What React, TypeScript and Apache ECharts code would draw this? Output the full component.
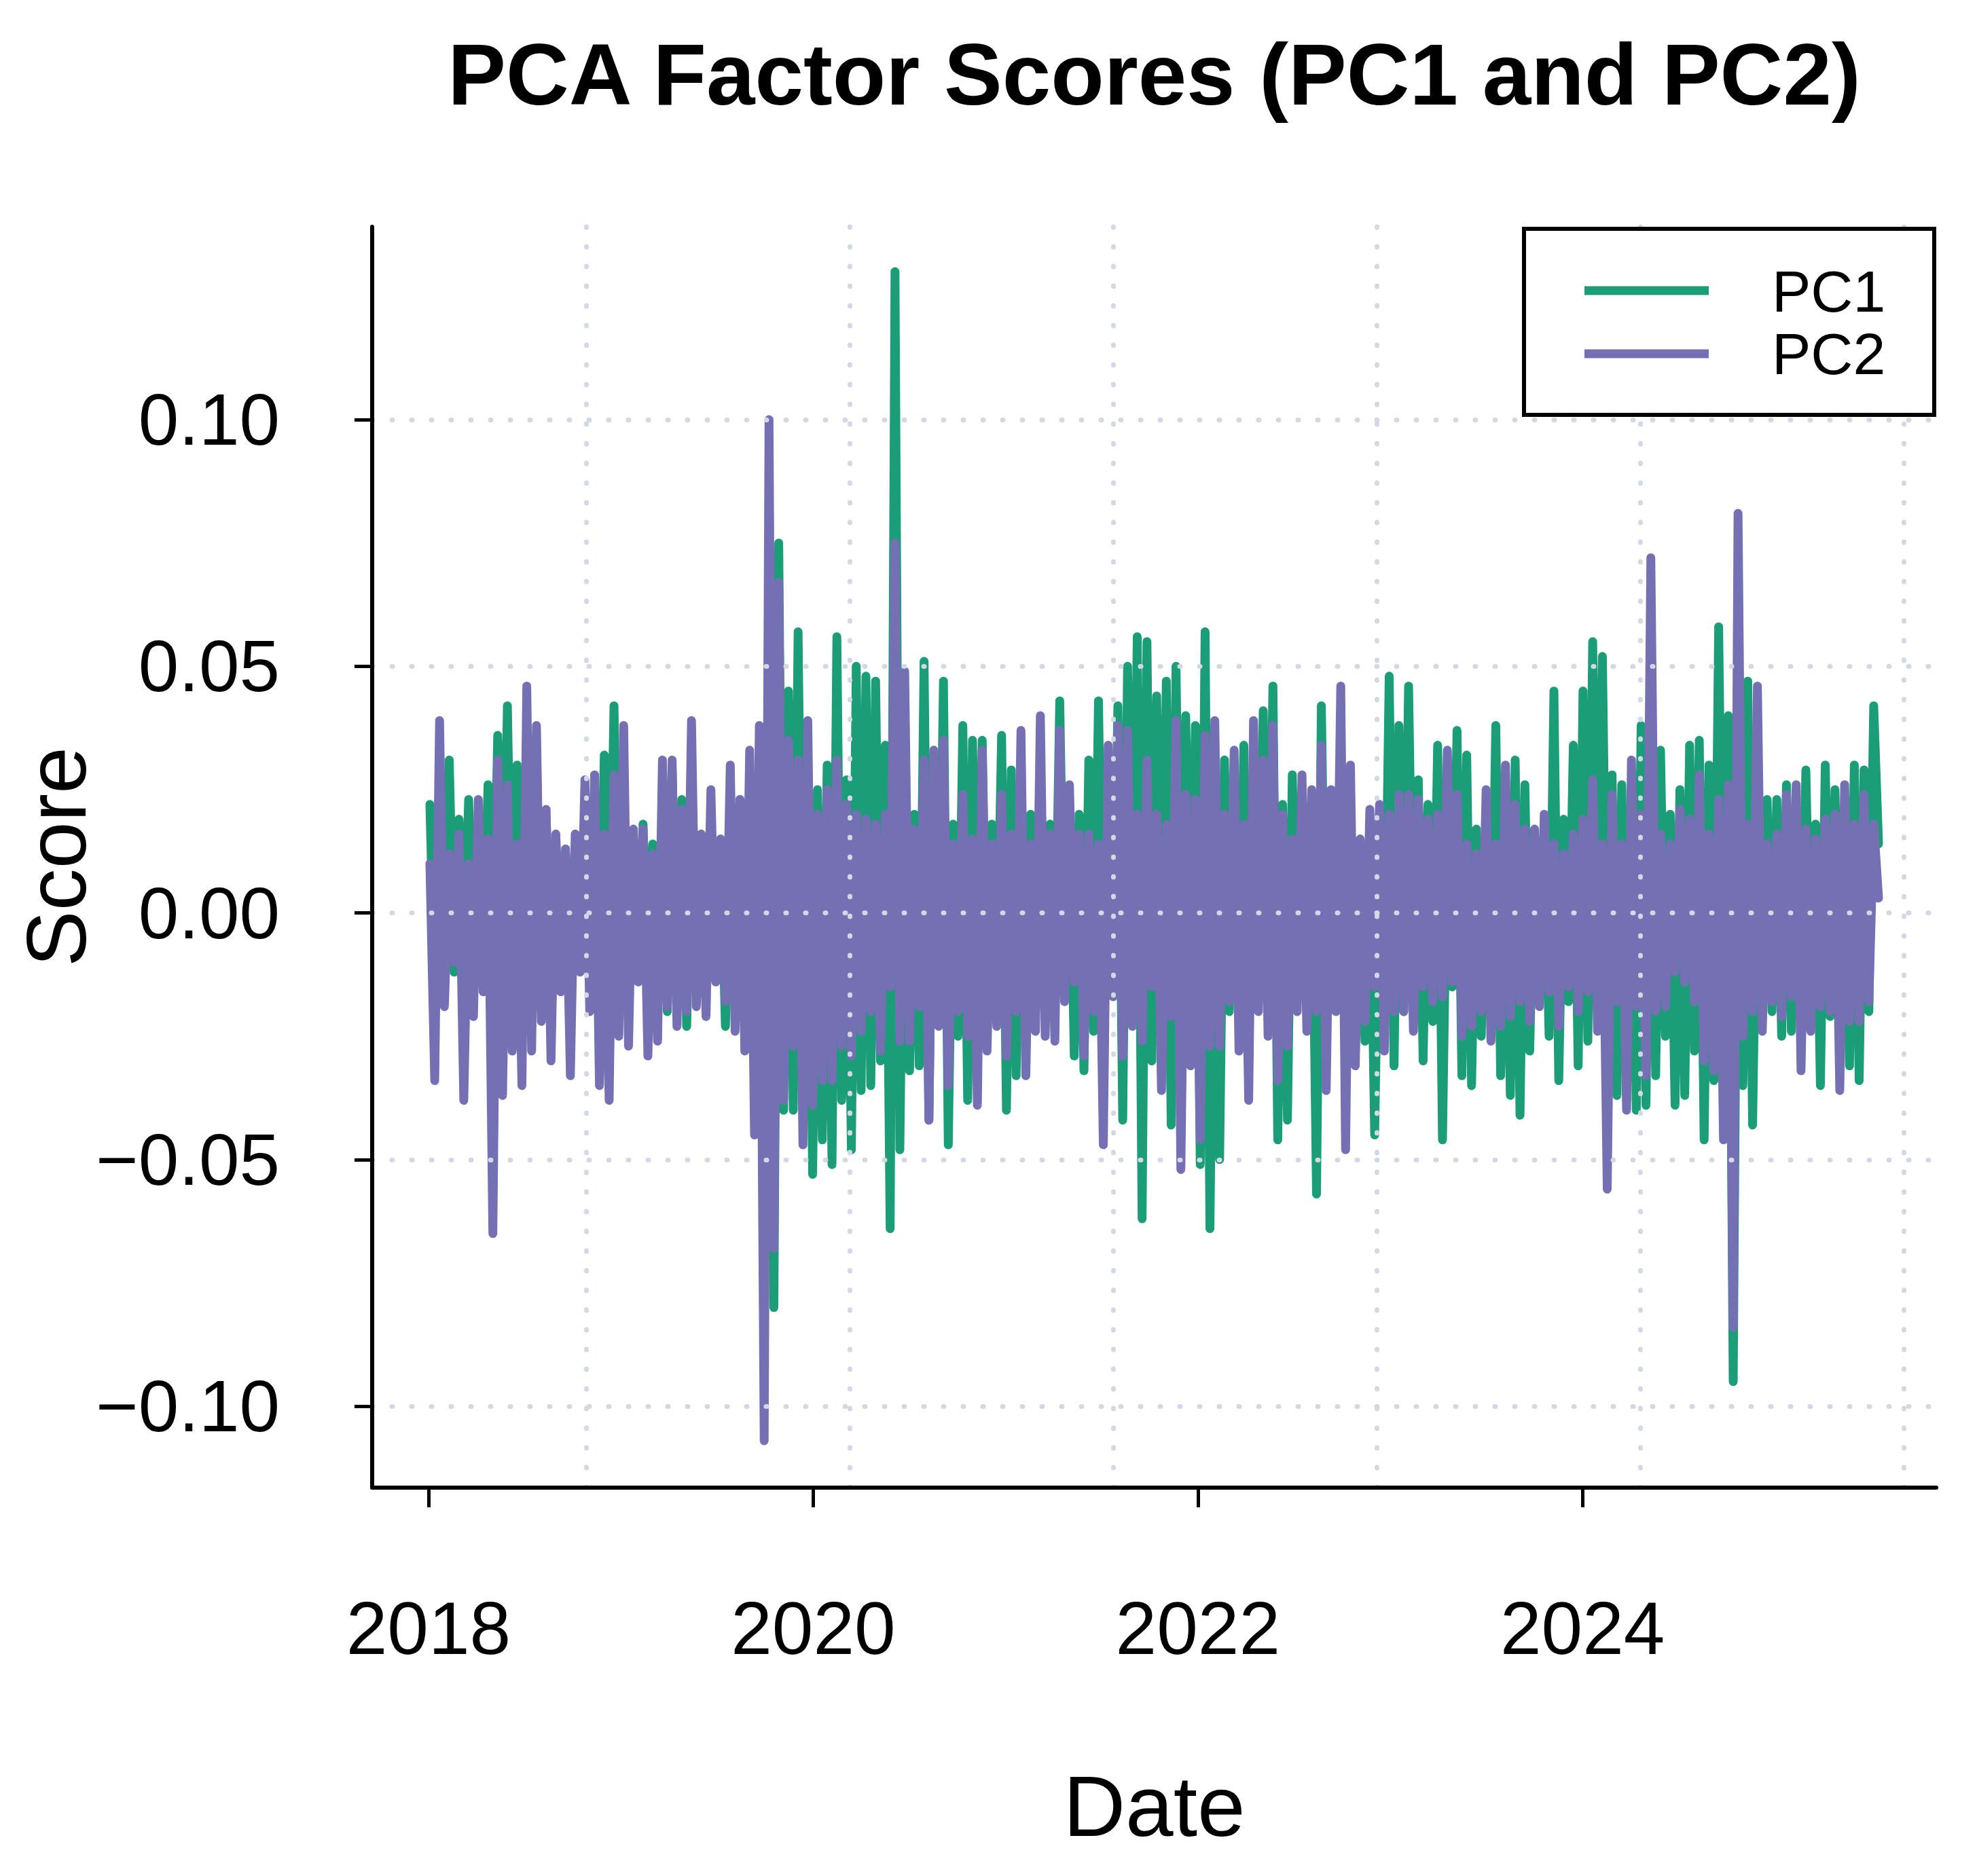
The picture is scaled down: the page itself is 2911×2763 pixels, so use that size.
import * as echarts from "echarts";
import { useEffect, useRef } from "react";

// factor scores in units of 0.001, one sample about every 9 days
const pc1 = [
  22, -16, 26, -17, 31, -12, 19, -10, 23, -12, 15, -12, 26, -15, 36, -14, 42, -15, 30, -22, 20, -12, 33, -16, 19,
  -10, 15, -14, 12, -12, 14, -10, 18, -12, 14, -13, 32, -14, 42, -16, 23, -16, 14, -12, 18, -14, 14, -12, 14, -20,
  29, -14, 23, -23, 18, -12, 12, -14, 16, -12, 14, -23, 15, -16, 23, -21, 20, -22, 30, -50, 52, -80, 75, -40, 45,
  -40, 57, -30, 28, -53, 25, -46, 30, -51, 56, -38, 27, -48, 50, -36, 48, -35, 47, -30, 34, -64, 130, -48, 35, -32,
  20, -31, 51, -42, 32, -20, 47, -47, 18, -25, 38, -38, 35, -22, 35, -20, 18, -16, 36, -40, 29, -33, 18, -18, 20,
  -15, 20, -16, 18, -15, 43, -15, 23, -29, 20, -32, 31, -24, 43, -25, 20, -16, 42, -42, 50, -20, 56, -62, 55, -30,
  44, -20, 47, -43, 50, -25, 40, -20, 38, -51, 57, -64, 25, -50, 31, -20, 25, -20, 34, -22, 20, -18, 41, -20, 46,
  -46, 22, -42, 28, -15, 18, -20, 20, -57, 42, -25, 18, -16, 20, -20, 20, -18, 14, -26, 16, -45, 15, -20, 48, -31,
  38, -20, 46, -16, 27, -30, 22, -22, 34, -46, 20, -15, 37, -33, 32, -35, 17, -25, 18, -22, 38, -33, 20, -37, 31,
  -41, 26, -28, 15, -15, 18, -25, 45, -34, 19, -18, 34, -31, 45, -26, 55, -18, 52, -20, 28, -37, 26, -38, 20, -40,
  38, -39, 40, -33, 33, -25, 20, -39, 25, -37, 34, -28, 35, -46, 30, -34, 58, -25, 40, -95, 40, -35, 47, -43, 20,
  -22, 23, -20, 23, -25, 26, -24, 20, -18, 29, -20, 18, -35, 30, -21, 25, -18, 20, -31, 30, -34, 29, -20, 42, 14,
];

const pc2 = [
  10, -34, 39, -19, 12, -10, 16, -38, 10, -21, 23, -16, 15, -65, 31, -37, 26, -28, 14, -35, 46, -28, 38, -22, 21,
  -30, 16, -16, 13, -33, 16, -12, 27, -20, 28, -35, 16, -38, 28, -25, 38, -27, 17, -14, 17, -29, 12, -26, 31, -19,
  31, -23, 21, -20, 39, -19, 16, -21, 25, -14, 15, -18, 30, -24, 23, -28, 33, -45, 38, -107, 100, -68, 67, -38, 35,
  -27, 31, -47, 39, -39, 20, -34, 25, -34, 31, -27, 22, -29, 20, -24, 19, -20, 18, -28, 20, -15, 75, -26, 49, -26,
  17, -19, 31, -42, 33, -23, 35, -35, 14, -20, 24, -25, 15, -39, 33, -28, 14, -23, 24, -29, 16, -20, 37, -33, 14,
  -24, 40, -25, 16, -26, 37, -18, 26, -14, 16, -29, 16, -20, 14, -47, 34, -17, 38, -29, 37, -23, 20, -26, 31, -15,
  20, -36, 18, -21, 39, -52, 24, -31, 23, -46, 36, -27, 39, -27, 20, -18, 33, -28, 18, -38, 39, -20, 31, -25, 38,
  -34, 20, -27, 15, -20, 28, -24, 25, -20, 34, -36, 25, -20, 46, -48, 30, -31, 15, -22, 21, -15, 22, -28, 20, -20,
  24, -20, 24, -24, 23, -15, 19, -18, 20, -17, 33, -14, 24, -25, 14, -23, 12, -20, 25, -26, 14, -23, 30, -21, 22,
  -18, 17, -22, 17, -19, 20, -16, 14, -23, 12, -15, 16, -20, 19, -16, 27, -24, 14, -56, 24, -18, 14, -40, 31, -19,
  20, -33, 72, -20, 16, -19, 14, -12, 21, -14, 19, -18, 28, -30, 16, -32, 23, -46, 26, -84, 81, -25, 18, -20, 46,
  -24, 14, -18, 16, -21, 24, -17, 26, -32, 17, -24, 15, -19, 19, -20, 20, -36, 26, -22, 18, -22, 24, -18, 18, 3,
];

// first and last sample as decimal years
const firstYear = 2018.007;
const lastYear = 2025.539;

const yearTicks = [2018, 2020, 2022, 2024];
const scoreTicks = [-0.1, -0.05, 0, 0.05, 0.1];
const gridYears = [2018.822, 2020.19, 2021.559, 2022.928, 2024.297, 2025.666];

const FONT = '"Liberation Sans", Arial, Helvetica, sans-serif';
const GREEN = "#1b9e77";
const PURPLE = "#7570b3";

const toPoints = (vals: number[]) =>
  vals.map((v, i) => [firstYear + (i * (lastYear - firstYear)) / (vals.length - 1), v / 1000]);

const App = () => {
  const chartRef = useRef<HTMLDivElement>(null);

  useEffect(() => {
    const myChart = echarts.init(chartRef.current, null, { renderer: "svg" });
    const option: any = {
      animation: false,
      textStyle: { fontFamily: FONT },
      grid: {
        left: 540,
        top: 326,
        width: 2303,
        height: 1857,
        containLabel: false,
        outerBoundsMode: "none",
      },
      xAxis: {
        type: "value",
        z: 10,
        min: 2017.707,
        max: 2025.839,
        name: "Date",
        nameLocation: "middle",
        nameGap: 405,
        nameTextStyle: { fontFamily: FONT, fontSize: 127, color: "#000" },
        axisLine: { show: true, onZero: false, lineStyle: { color: "#000", width: 6 } },
        axisTick: {
          show: true,
          customValues: yearTicks,
          length: 29,
          lineStyle: { color: "#000", width: 5 },
        },
        axisLabel: {
          customValues: yearTicks,
          formatter: (v: number) => String(Math.round(v)),
          fontFamily: FONT,
          fontSize: 109,
          color: "#000",
          margin: 152,
        },
        splitLine: { show: false },
      },
      yAxis: {
        type: "value",
        z: 10,
        min: -0.1165,
        max: 0.1391,
        axisLine: { show: true, onZero: false, lineStyle: { color: "#000", width: 6 } },
        axisTick: {
          show: true,
          customValues: scoreTicks,
          length: 26,
          lineStyle: { color: "#000", width: 5 },
        },
        axisLabel: {
          customValues: scoreTicks,
          formatter: (v: number) => (v < 0 ? "\u2212" : "") + Math.abs(v).toFixed(2),
          fontFamily: FONT,
          fontSize: 107,
          color: "#000",
          margin: 136,
        },
        splitLine: { show: false },
      },
      series: [
        {
          name: "PC1",
          type: "line",
          data: toPoints(pc1),
          showSymbol: false,
          symbol: "none",
          silent: true,
          emphasis: { disabled: true },
          z: 2,
          lineStyle: { color: GREEN, width: 13, cap: "round", join: "round" },
        },
        {
          name: "PC2",
          type: "line",
          data: toPoints(pc2),
          showSymbol: false,
          symbol: "none",
          silent: true,
          emphasis: { disabled: true },
          z: 3,
          lineStyle: { color: PURPLE, width: 13, cap: "round", join: "round" },
          markLine: {
            silent: true,
            z: 5,
            symbol: ["none", "none"],
            label: { show: false },
            emphasis: { disabled: true },
            lineStyle: { color: "#d3d9e4", width: 7, type: [1, 28], cap: "round" },
            data: [
              ...gridYears.map((x) => ({ xAxis: x })),
              ...scoreTicks.map((y) => ({ yAxis: y })),
            ],
          },
        },
      ],
      graphic: [
        {
          type: "text",
          x: 1691.5,
          y: 101,
          z: 100,
          style: {
            text: "PCA Factor Scores (PC1 and PC2)",
            fontFamily: FONT,
            fontWeight: "bold",
            fontSize: 128.5,
            fill: "#000",
            align: "center",
            textAlign: "center",
            verticalAlign: "middle",
            textVerticalAlign: "middle",
          },
        },
        {
          // y axis title
          type: "text",
          x: 75,
          y: 1254,
          rotation: Math.PI / 2,
          z: 100,
          style: {
            text: "Score",
            fontFamily: FONT,
            fontSize: 124,
            fill: "#000",
            align: "center",
            textAlign: "center",
            verticalAlign: "middle",
            textVerticalAlign: "middle",
          },
        },
        {
          type: "rect",
          z: 100,
          shape: { x: 2236, y: 329, width: 604, height: 274 },
          style: { fill: "#fff", stroke: "#000", lineWidth: 6 },
        },
        {
          type: "line",
          z: 101,
          shape: { x1: 2325, y1: 420, x2: 2508, y2: 420 },
          style: { stroke: GREEN, lineWidth: 13 },
        },
        {
          type: "line",
          z: 101,
          shape: { x1: 2325, y1: 513, x2: 2508, y2: 513 },
          style: { stroke: PURPLE, lineWidth: 13 },
        },
        {
          type: "text",
          x: 2601,
          y: 421,
          z: 101,
          style: {
            text: "PC1",
            fontFamily: FONT,
            fontSize: 86,
            fill: "#000",
            align: "left",
            textAlign: "left",
            verticalAlign: "middle",
            textVerticalAlign: "middle",
          },
        },
        {
          type: "text",
          x: 2601,
          y: 513,
          z: 101,
          style: {
            text: "PC2",
            fontFamily: FONT,
            fontSize: 86,
            fill: "#000",
            align: "left",
            textAlign: "left",
            verticalAlign: "middle",
            textVerticalAlign: "middle",
          },
        },
      ],
    };
    myChart.setOption(option);
    return () => {
      myChart.dispose();
    };
  }, []);

  return <div ref={chartRef} style={{ width: "2895px", height: "2747px" }} />;
};

export default App;
